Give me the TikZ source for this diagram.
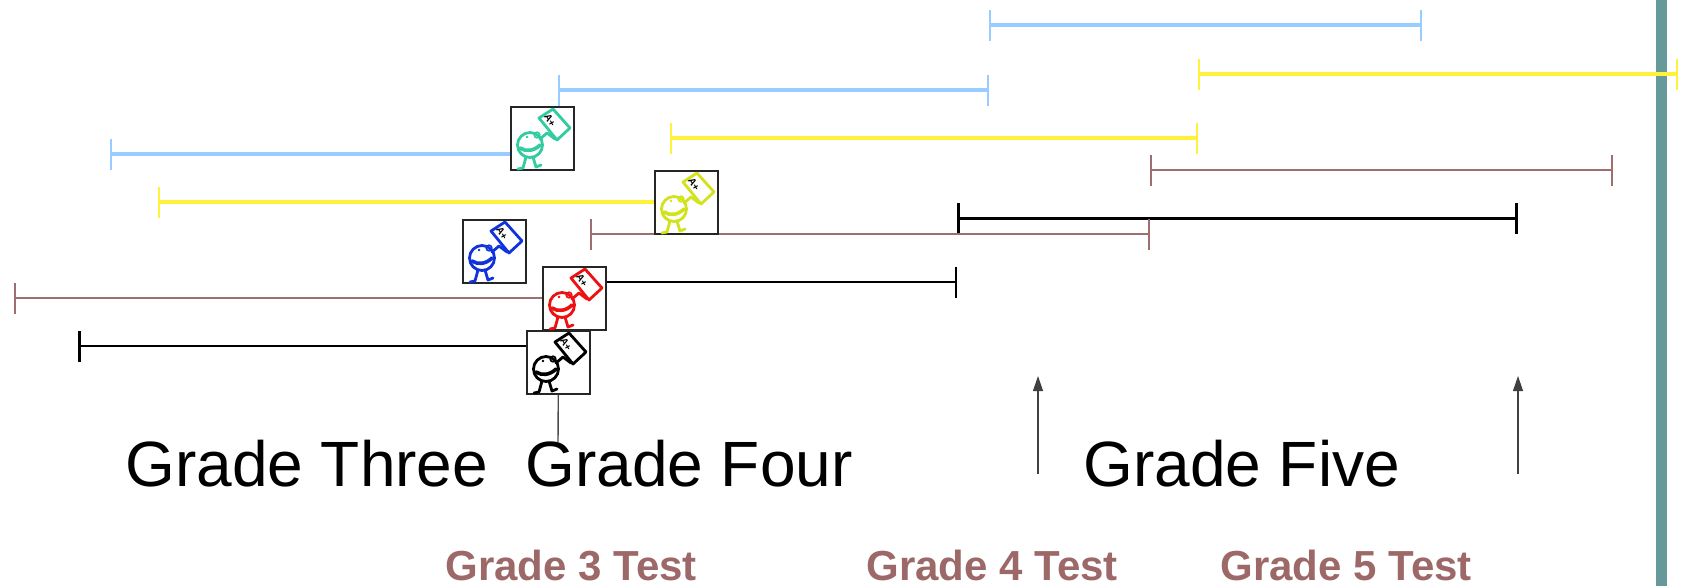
\documentclass[tikz,border=0pt]{standalone}
\usepackage{fontspec}
\setmainfont{Liberation Sans}
\usetikzlibrary{arrows.meta,backgrounds}

\definecolor{skyline}{HTML}{99CCFF}
\definecolor{sunline}{HTML}{FFF23A}
\definecolor{clayline}{HTML}{A06E6E}
\definecolor{testtext}{HTML}{9C6868}
\definecolor{sidebar}{HTML}{669999}
\definecolor{kidteal}{HTML}{33CCA0}
\definecolor{kidlime}{HTML}{D2E21C}
\definecolor{kidblue}{HTML}{1133DD}
\definecolor{kidred}{HTML}{EE1111}

\tikzset{
  sky/.style={draw=skyline, line width=2pt},
  sun/.style={draw=sunline, line width=2pt},
  clay/.style={draw=clayline, line width=0.8pt},
  inkthick/.style={draw=black, line width=1.5pt},
  inkthin/.style={draw=black, line width=0.75pt},
  ticks/.style={arrows={Bar[width=15.5pt,line width=#1]-Bar[width=15.5pt,line width=#1]}},
  ticks/.default=1pt,
  tickl/.style={arrows={Bar[width=15.5pt,line width=#1]-}},
  tickl/.default=1pt,
  tickr/.style={arrows={-Bar[width=15.5pt,line width=#1]}},
  tickr/.default=1pt,
  pointer/.style={draw=black!75, line width=0.6pt, -{Triangle[length=7.5pt,width=5pt]}},
  kidbox/.style={draw=black!85, line width=0.8pt, fill=white, inner sep=0pt,
    minimum size=31.5pt, anchor=north west},
  gradelabel/.style={font=\fontsize{32}{36}\selectfont, anchor=base west, inner sep=0pt},
  testlabel/.style={font=\fontsize{21}{24}\selectfont\bfseries, text=testtext,
    anchor=base west, inner sep=0pt},
  kid/.pic={
    \begin{scope}[line width=1.4pt, line cap=round, line join=round]
      % head, eye and monocle
      \draw (20,39) circle[radius=12.5];
      \fill (17,31) circle[radius=1.3];
      \draw[line width=0.8pt] (27,29) circle[radius=2.8];
      % grin
      \draw[line width=1.8pt] (10,42) .. controls (16,46) and (24,45) .. (30,39);
      % arm up to the sign
      \draw (30,33) -- (37,27) -- (41,30) -- (45,33);
      % legs and feet
      \draw (16,51) -- (13,62) -- (8,63);
      \draw (23,51) -- (26,61) -- (31,59);
      % the sign
      \draw (29,12) -- (43,3) -- (60,22) -- (47,34) -- cycle;
      \node[text=black, font=\fontsize{5}{5}\selectfont\bfseries, rotate=-60,
        inner sep=0pt] (-mark) at (40,14) {A+};
    \end{scope}
  }
}

\begin{document}
\begin{tikzpicture}[x=0.5pt, y={(0pt,-0.5pt)}]
  \useasboundingbox (0,0) rectangle (1681,586);

  % the five icon frames
  \node[kidbox] (kt) at (510,106) {};
  \node[kidbox] (ky) at (654,170) {};
  \node[kidbox] (kb) at (462,219) {};
  \node[kidbox] (kr) at (542,266) {};
  \node[kidbox] (kk) at (526,330) {};

  % figures inside the frames
  \pic[color=kidteal] (kidt) at (kt.north west) {kid};
  \pic[color=kidlime] (kidy) at (ky.north west) {kid};
  \pic[color=kidblue] (kidb) at (kb.north west) {kid};
  \pic[color=kidred] (kidr) at (kr.north west) {kid};
  \pic[color=black] (kidk) at (kk.north west) {kid};

  % end points of the spans
  \coordinate (s1a) at (989,25);   \coordinate (s1b) at (1422,25);
  \coordinate (s2a) at (1198,74);  \coordinate (s2b) at (1678,74);
  \coordinate (s3a) at (558,90);   \coordinate (s3b) at (989,90);
  \coordinate (s4a) at (670,138);  \coordinate (s4b) at (1198,138);
  \coordinate (s5a) at (110,154);
  \coordinate (s6a) at (1150,170); \coordinate (s6b) at (1613,170);
  \coordinate (s7a) at (158,202);
  \coordinate (s8a) at (957,218);  \coordinate (s8b) at (1518,218);
  \coordinate (s9a) at (590,234);  \coordinate (s9b) at (1150,234);
  \coordinate (s10b) at (957,282);
  \coordinate (s11a) at (14,298);
  \coordinate (s12a) at (78,346);

  \begin{pgfonlayer}{background}
    % side bar
    \fill[sidebar] (1656,0) rectangle (1667,586);
    % the spans, behind the icons
    \draw[sky, ticks] (s1a) -- (s1b);
    \draw[sun, ticks] (s2a) -- (s2b);
    \draw[sky, ticks] (s3a) -- (s3b);
    \draw[sun, ticks] (s4a) -- (s4b);
    \draw[sky, tickl] (s5a) -- (s5a -| kt.west);
    \draw[clay, ticks] (s6a) -- (s6b);
    \draw[sun, tickl] (s7a) -- (s7a -| ky.west);
    \draw[inkthick, ticks=1.3pt] (s8a) -- (s8b);
    \draw[clay, ticks] (s9a) -- (s9b);
    \draw[inkthin, tickr=0.9pt] (s10b -| kr.east) -- (s10b);
    \draw[clay, tickl] (s11a) -- (s11a -| kr.west);
    \draw[inkthin, tickl=1.5pt] (s12a) -- (s12a -| kk.west);
  \end{pgfonlayer}

  % drop line under the last icon
  \coordinate (drop) at (558,442);
  \draw[draw=black!70, line width=0.7pt] (kk.south) -- (drop);

  % test markers
  \coordinate (p4base) at (1038,474); \coordinate (p4tip) at (1038,376);
  \coordinate (p5base) at (1518,474); \coordinate (p5tip) at (1518,376);
  \draw[pointer] (p4base) -- (p4tip);
  \draw[pointer] (p5base) -- (p5tip);

  % labels
  \node[gradelabel] (g3) at (125,486) {Grade Three};
  \node[gradelabel] (g4) at (525,486) {Grade Four};
  \node[gradelabel] (g5) at (1083,486) {Grade Five};
  \node[testlabel] (t3) at (445,580) {Grade 3 Test};
  \node[testlabel] (t4) at (866,580) {Grade 4 Test};
  \node[testlabel] (t5) at (1220,580) {Grade 5 Test};
\end{tikzpicture}
\end{document}
